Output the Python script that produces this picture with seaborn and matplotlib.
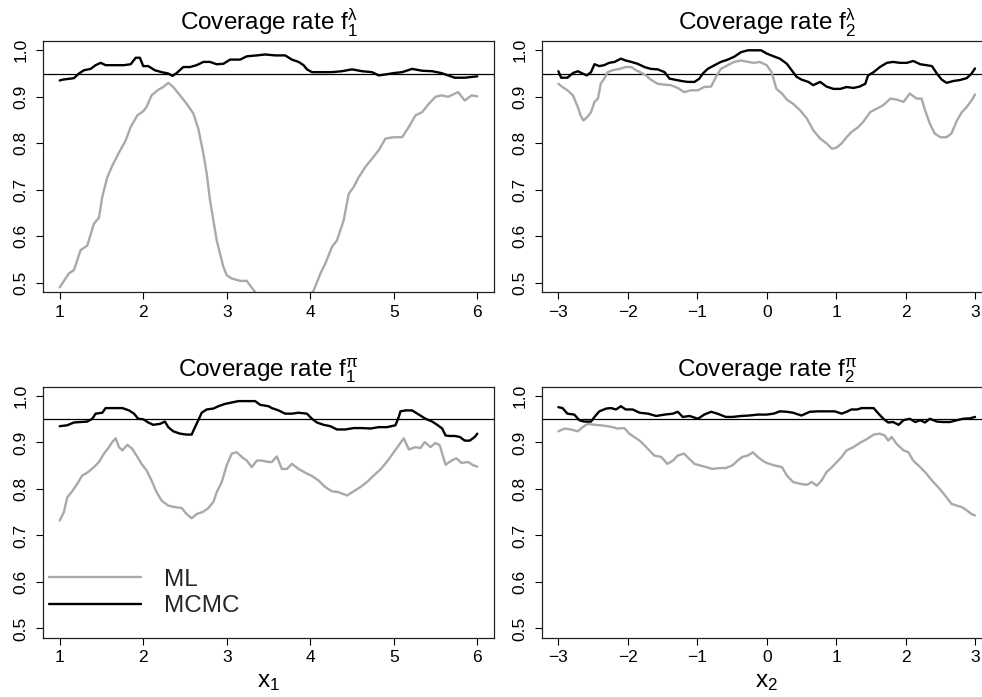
import matplotlib
matplotlib.use("Agg")
import matplotlib.pyplot as plt
import seaborn as sns
import pandas as pd

# ---------------- data ----------------
# panel: f1 lambda (x1)
f1_lambda_ML = [(1.00, .490), (1.11, .520), (1.17, .527), (1.25, .570), (1.33, .580), (1.41, .627),
                (1.47, .640), (1.51, .685), (1.57, .727), (1.63, .752), (1.71, .780), (1.79, .806),
                (1.85, .835), (1.93, .860), (2.00, .869), (2.04, .878), (2.10, .903), (2.18, .915),
                (2.24, .921), (2.30, .930), (2.36, .921), (2.44, .903), (2.52, .885), (2.60, .864),
                (2.66, .831), (2.72, .778), (2.76, .735), (2.80, .677), (2.84, .634), (2.88, .591),
                (2.92, .562), (2.96, .534), (3.00, .516), (3.06, .509), (3.16, .504), (3.24, .504),
                (3.28, .494), (3.34, .480), (3.45, .455), (3.60, .430), (3.80, .440), (3.95, .465),
                (4.04, .483), (4.12, .519), (4.18, .541), (4.26, .577), (4.32, .591), (4.40, .634),
                (4.46, .691), (4.52, .706), (4.58, .727), (4.66, .749), (4.74, .767), (4.82, .785),
                (4.90, .810), (5.00, .813), (5.10, .813), (5.18, .835), (5.26, .860), (5.34, .867),
                (5.42, .885), (5.50, .900), (5.57, .903), (5.65, .900), (5.77, .910), (5.85, .892),
                (5.93, .903), (6.00, .901)]
f1_lambda_MCMC = [(1.00, .935), (1.04, .937), (1.17, .940), (1.23, .950), (1.29, .957), (1.37, .960),
                  (1.43, .968), (1.49, .973), (1.55, .968), (1.65, .968), (1.77, .968), (1.85, .970),
                  (1.91, .984), (1.96, .984), (2.00, .966), (2.06, .966), (2.14, .957), (2.22, .953),
                  (2.30, .950), (2.35, .945), (2.40, .951), (2.48, .964), (2.56, .964), (2.64, .968),
                  (2.72, .975), (2.80, .975), (2.88, .970), (2.96, .971), (3.04, .980), (3.16, .980),
                  (3.24, .987), (3.36, .989), (3.46, .991), (3.58, .989), (3.70, .989), (3.78, .980),
                  (3.86, .975), (3.92, .968), (3.96, .959), (4.02, .953), (4.14, .953), (4.26, .953),
                  (4.38, .955), (4.50, .959), (4.62, .955), (4.74, .953), (4.82, .946), (4.90, .948),
                  (5.00, .951), (5.10, .953), (5.22, .960), (5.34, .956), (5.46, .955), (5.57, .951),
                  (5.65, .946), (5.73, .941), (5.85, .941), (6.00, .944)]

# panel: f2 lambda (x2)
f2_lambda_ML = [(-3.00, .928), (-2.94, .921), (-2.87, .914), (-2.79, .903), (-2.77, .896), (-2.72, .878),
                (-2.68, .860), (-2.64, .849), (-2.58, .857), (-2.53, .867), (-2.48, .889), (-2.43, .896),
                (-2.39, .928), (-2.34, .939), (-2.29, .953), (-2.22, .957), (-2.12, .960), (-2.03, .964),
                (-1.95, .964), (-1.88, .957), (-1.81, .952), (-1.74, .946), (-1.67, .937), (-1.57, .928),
                (-1.47, .926), (-1.38, .925), (-1.28, .919), (-1.19, .910), (-1.09, .914), (-0.99, .914),
                (-0.90, .921), (-0.80, .922), (-0.73, .943), (-0.66, .960), (-0.56, .968), (-0.47, .975),
                (-0.37, .978), (-0.27, .975), (-0.18, .973), (-0.10, .975), (0.00, .968), (0.07, .953),
                (0.14, .917), (0.22, .907), (0.29, .894), (0.38, .885), (0.48, .871), (0.58, .853),
                (0.67, .828), (0.77, .810), (0.86, .800), (0.94, .788), (1.01, .791), (1.08, .800),
                (1.15, .813), (1.22, .824), (1.32, .835), (1.39, .846), (1.49, .867), (1.58, .874),
                (1.68, .882), (1.78, .896), (1.87, .894), (1.97, .889), (2.06, .907), (2.16, .896),
                (2.23, .896), (2.28, .871), (2.35, .842), (2.42, .821), (2.50, .813), (2.59, .813),
                (2.66, .821), (2.74, .849), (2.81, .867), (2.88, .878), (2.95, .892), (3.00, .905)]
f2_lambda_MCMC = [(-3.00, .955), (-2.96, .941), (-2.87, .941), (-2.79, .951), (-2.72, .955), (-2.65, .950),
                  (-2.59, .946), (-2.53, .953), (-2.48, .970), (-2.41, .966), (-2.34, .968), (-2.27, .973),
                  (-2.19, .975), (-2.10, .982), (-2.03, .978), (-1.95, .975), (-1.86, .971), (-1.76, .964),
                  (-1.67, .960), (-1.57, .959), (-1.47, .953), (-1.40, .939), (-1.33, .937), (-1.23, .934),
                  (-1.14, .932), (-1.04, .932), (-0.97, .939), (-0.92, .950), (-0.85, .960), (-0.75, .968),
                  (-0.66, .975), (-0.56, .980), (-0.47, .986), (-0.37, .996), (-0.27, 1.000), (-0.08, 1.000),
                  (0.00, .993), (0.10, .987), (0.19, .982), (0.29, .971), (0.36, .957), (0.43, .943),
                  (0.50, .937), (0.60, .932), (0.67, .925), (0.77, .932), (0.86, .922), (0.96, .917),
                  (1.06, .917), (1.15, .921), (1.25, .919), (1.34, .922), (1.42, .928), (1.46, .946),
                  (1.54, .953), (1.63, .964), (1.73, .973), (1.82, .975), (1.92, .973), (2.02, .973),
                  (2.11, .977), (2.21, .970), (2.30, .968), (2.38, .966), (2.45, .950), (2.52, .937),
                  (2.59, .930), (2.69, .934), (2.78, .936), (2.88, .940), (2.95, .950), (3.00, .961)]

# panel: f1 pi (x1)
f1_pi_ML = [(1.00, .732), (1.05, .750), (1.09, .782), (1.15, .795), (1.21, .811), (1.27, .829),
            (1.33, .835), (1.41, .847), (1.47, .858), (1.53, .876), (1.59, .890), (1.63, .901),
            (1.67, .909), (1.71, .890), (1.75, .883), (1.81, .895), (1.87, .886), (1.93, .869),
            (1.98, .854), (2.04, .840), (2.10, .818), (2.16, .793), (2.22, .775), (2.30, .764),
            (2.38, .761), (2.46, .759), (2.52, .746), (2.58, .737), (2.64, .746), (2.72, .751),
            (2.78, .759), (2.84, .772), (2.88, .793), (2.94, .815), (3.00, .851), (3.06, .876),
            (3.12, .879), (3.18, .869), (3.24, .861), (3.30, .847), (3.36, .861), (3.42, .861),
            (3.50, .858), (3.54, .858), (3.60, .870), (3.66, .843), (3.72, .843), (3.78, .854),
            (3.86, .843), (3.94, .835), (4.02, .828), (4.10, .818), (4.18, .804), (4.26, .795),
            (4.34, .793), (4.44, .786), (4.52, .795), (4.60, .804), (4.68, .815), (4.76, .829),
            (4.84, .842), (4.92, .859), (5.00, .879), (5.06, .894), (5.12, .909), (5.18, .885),
            (5.26, .890), (5.32, .888), (5.37, .901), (5.44, .890), (5.50, .899), (5.55, .894),
            (5.58, .876), (5.62, .852), (5.69, .861), (5.75, .866), (5.81, .856), (5.89, .858),
            (5.95, .851), (6.00, .848)]
f1_pi_MCMC = [(1.00, .935), (1.09, .937), (1.17, .943), (1.25, .944), (1.33, .945), (1.39, .951),
              (1.43, .962), (1.51, .964), (1.55, .974), (1.65, .974), (1.75, .974), (1.83, .969),
              (1.89, .962), (1.94, .951), (2.00, .950), (2.06, .943), (2.12, .938), (2.20, .940),
              (2.26, .945), (2.30, .933), (2.36, .924), (2.44, .919), (2.52, .917), (2.58, .917),
              (2.62, .933), (2.66, .948), (2.70, .964), (2.76, .971), (2.84, .973), (2.90, .978),
              (2.98, .983), (3.06, .986), (3.14, .989), (3.24, .989), (3.34, .989), (3.40, .981),
              (3.50, .978), (3.54, .974), (3.62, .969), (3.70, .962), (3.78, .962), (3.86, .964),
              (3.96, .962), (4.02, .951), (4.08, .943), (4.16, .938), (4.24, .935), (4.32, .928),
              (4.42, .928), (4.52, .931), (4.62, .931), (4.72, .930), (4.82, .933), (4.92, .933),
              (5.02, .937), (5.06, .955), (5.08, .967), (5.14, .969), (5.22, .969), (5.30, .960),
              (5.38, .951), (5.46, .945), (5.52, .938), (5.58, .930), (5.62, .915), (5.67, .914),
              (5.73, .914), (5.79, .912), (5.85, .904), (5.91, .904), (5.97, .912), (6.00, .919)]

# panel: f2 pi (x2)
f2_pi_ML = [(-3.00, .924), (-2.91, .930), (-2.82, .928), (-2.72, .924), (-2.65, .933), (-2.58, .940),
            (-2.48, .938), (-2.39, .937), (-2.29, .935), (-2.22, .933), (-2.15, .930), (-2.05, .931),
            (-1.98, .919), (-1.91, .912), (-1.83, .904), (-1.76, .894), (-1.69, .883), (-1.62, .872),
            (-1.52, .869), (-1.43, .854), (-1.35, .861), (-1.28, .872), (-1.19, .876), (-1.11, .864),
            (-1.04, .854), (-0.97, .851), (-0.87, .847), (-0.78, .843), (-0.68, .845), (-0.59, .845),
            (-0.49, .851), (-0.42, .861), (-0.35, .869), (-0.27, .872), (-0.20, .879), (-0.13, .869),
            (-0.06, .861), (0.00, .856), (0.10, .851), (0.22, .847), (0.29, .829), (0.38, .815),
            (0.48, .811), (0.58, .809), (0.65, .815), (0.72, .807), (0.79, .818), (0.86, .836),
            (0.94, .847), (1.01, .858), (1.08, .869), (1.15, .883), (1.25, .890), (1.34, .899),
            (1.44, .907), (1.54, .917), (1.63, .919), (1.70, .915), (1.75, .904), (1.80, .912),
            (1.87, .897), (1.97, .883), (2.04, .879), (2.11, .861), (2.21, .847), (2.30, .833),
            (2.38, .818), (2.45, .807), (2.52, .795), (2.59, .782), (2.66, .768), (2.74, .764),
            (2.81, .761), (2.88, .754), (2.95, .746), (3.00, .743)]
f2_pi_MCMC = [(-3.00, .976), (-2.94, .974), (-2.87, .962), (-2.77, .960), (-2.70, .948), (-2.63, .945),
              (-2.53, .945), (-2.48, .955), (-2.41, .967), (-2.31, .973), (-2.24, .974), (-2.17, .971),
              (-2.10, .978), (-2.03, .971), (-1.93, .971), (-1.83, .964), (-1.71, .962), (-1.59, .957),
              (-1.47, .960), (-1.35, .962), (-1.28, .966), (-1.21, .955), (-1.11, .957), (-0.99, .951),
              (-0.90, .960), (-0.80, .966), (-0.71, .962), (-0.59, .955), (-0.49, .955), (-0.37, .957),
              (-0.25, .958), (-0.13, .960), (0.00, .960), (0.10, .962), (0.19, .967), (0.29, .966),
              (0.38, .964), (0.50, .958), (0.62, .966), (0.74, .967), (0.86, .967), (0.98, .967),
              (1.08, .962), (1.15, .966), (1.22, .971), (1.30, .971), (1.37, .974), (1.44, .974),
              (1.54, .974), (1.61, .962), (1.68, .951), (1.75, .943), (1.82, .944), (1.90, .938),
              (1.97, .948), (2.06, .951), (2.14, .944), (2.21, .948), (2.28, .943), (2.35, .951),
              (2.45, .945), (2.54, .944), (2.64, .944), (2.74, .948), (2.83, .951), (2.93, .952),
              (3.00, .955)]

titles = [r"Coverage rate $\mathregular{f}_{1}^{\lambda}$", r"Coverage rate $\mathregular{f}_{2}^{\lambda}$",
          r"Coverage rate $\mathregular{f}_{1}^{\pi}$", r"Coverage rate $\mathregular{f}_{2}^{\pi}$"]
xlabels = ["", "", r"$\mathregular{x}_{1}$", r"$\mathregular{x}_{2}$"]
x1_ticks = [1, 2, 3, 4, 5, 6]
x2_ticks = [-3, -2, -1, 0, 1, 2, 3]
y_ticks = [0.5, 0.6, 0.7, 0.8, 0.9, 1.0]
nominal = 0.95
series_names = ["ML", "MCMC"]

# ---------------- style ----------------
sns.set_theme(style="ticks")
plt.rcParams["font.family"] = ["Liberation Sans", "DejaVu Sans"]
plt.rcParams["mathtext.fontset"] = "custom"
plt.rcParams["mathtext.rm"] = "Liberation Sans"
plt.rcParams["mathtext.it"] = "Liberation Sans"
plt.rcParams["mathtext.bf"] = "Liberation Sans"
plt.rcParams["mathtext.sf"] = "Liberation Sans"

ML_COLOR = "#a9a9a9"
MCMC_COLOR = "#000000"

fig = plt.figure(figsize=(9.82, 6.97), dpi=100)
W, H = 982.0, 697.0
# axes boxes in pixels: (left, top, right, bottom)
boxes = [(43, 41, 494, 292), (541.7, 41, 991.7, 292),
         (43, 386.7, 494, 637.7), (541.7, 386.7, 991.7, 637.7)]
panels = [(f1_lambda_ML, f1_lambda_MCMC, x1_ticks),
          (f2_lambda_ML, f2_lambda_MCMC, x2_ticks),
          (f1_pi_ML, f1_pi_MCMC, x1_ticks),
          (f2_pi_ML, f2_pi_MCMC, x2_ticks)]

for i, ((l, t, r, b), (ml, mc, xt)) in enumerate(zip(boxes, panels)):
    ax = fig.add_axes([l / W, 1 - b / H, (r - l) / W, (b - t) / H])
    df = pd.concat([
        pd.DataFrame({"x": [p[0] for p in ml], "y": [p[1] for p in ml], "method": "ML"}),
        pd.DataFrame({"x": [p[0] for p in mc], "y": [p[1] for p in mc], "method": "MCMC"}),
    ])
    sns.lineplot(data=df, x="x", y="y", hue="method", hue_order=series_names,
                 palette={"ML": ML_COLOR, "MCMC": MCMC_COLOR}, estimator=None, sort=False,
                 linewidth=1.7, ax=ax, legend=(i == 2))
    ax.axhline(nominal, color="black", linewidth=0.9, zorder=1)
    span = xt[-1] - xt[0]
    ax.set_xlim(xt[0] - 0.04 * span, xt[-1] + 0.04 * span)
    ax.set_ylim(0.48, 1.02)
    ax.set_xticks(xt)
    ax.set_xticklabels([str(v).replace("-", "\u2212") for v in xt])
    ax.set_yticks(y_ticks)
    ax.set_yticklabels([f"{v:.1f}" for v in y_ticks])
    ax.tick_params(axis="both", direction="out", length=5.2, width=0.8, color="black",
                   labelsize=12.5, labelcolor="black")
    ax.tick_params(axis="x", pad=4.0)
    ax.tick_params(axis="y", pad=5.0, labelrotation=90)
    for lab in ax.get_yticklabels():
        lab.set_va("center")
    for s in ax.spines.values():
        s.set_visible(True)
        s.set_color("#222222")
        s.set_linewidth(0.9)
    ax.set_title(titles[i], fontsize=17.5, pad=7.5, color="black")
    ax.set_xlabel(xlabels[i], fontsize=17.5, labelpad=4.0, color="black")
    ax.set_ylabel("")
    if i == 2:
        leg = ax.legend(loc="center left", bbox_to_anchor=(0.013, 0.178), frameon=False,
                        fontsize=17.5, handlelength=3.8, handletextpad=0.95,
                        labelspacing=0.2, borderpad=0, borderaxespad=0)
        for ln in leg.get_lines():
            ln.set_linewidth(1.7)

fig.savefig("out.png", dpi=100)
